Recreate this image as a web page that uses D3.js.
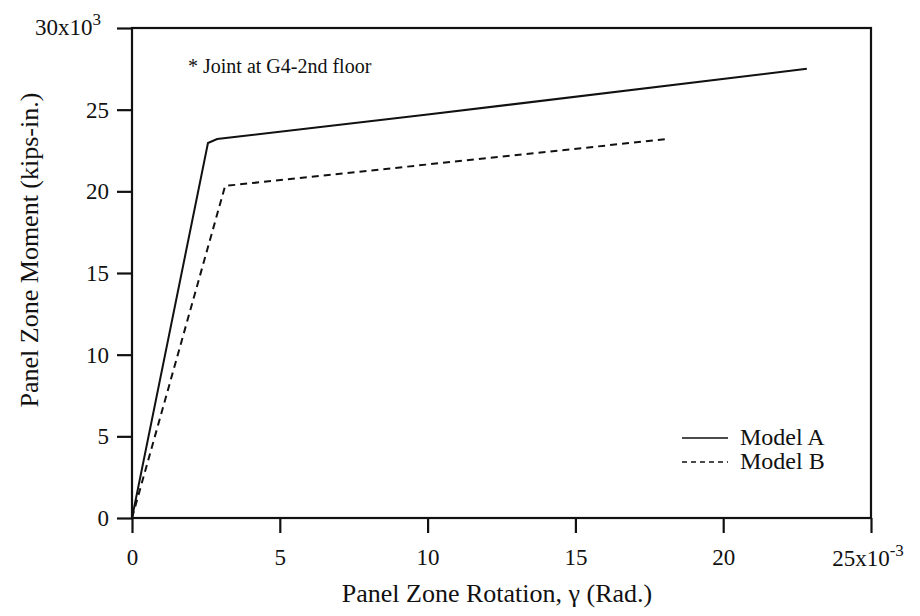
<!DOCTYPE html>
<html>
<head>
<meta charset="utf-8">
<script src="https://cdn.jsdelivr.net/npm/d3@7"></script>
<style>
  body { margin: 0; background: #fff; }
  svg text { font-family: "Liberation Serif", "Times New Roman", serif; fill: #111; }
</style>
</head>
<body>
<svg id="chart" width="920" height="616"></svg>
<script>
// data (x in 1e-3 rad, y in 1e3 kips-in.)
var modelAx = [0, 2.57, 2.88, 10, 22.83];
var modelAy = [0, 22.96, 23.2, 24.7, 27.5];
var modelBx = [0, 3.15, 18.1];
var modelBy = [0, 20.33, 23.2];
var xTicks = [0, 5, 10, 15, 20, 25];
var yTicks = [0, 5, 10, 15, 20, 25, 30];

var svg = d3.select('#chart');
// plot box (note: "top" is a reserved window prop, so use pad names)
var padL = 132, padR = 871, padT = 28, padB = 518;

var x = d3.scaleLinear().domain([0, 25]).range([padL, padR]);
var y = d3.scaleLinear().domain([0, 30]).range([padB, padT]);

// frame
svg.append('rect')
    .attr('x', padL).attr('y', padT)
    .attr('width', padR - padL).attr('height', padB - padT)
    .attr('fill', 'none').attr('stroke', '#111').attr('stroke-width', 2.2);

// x axis
var xAxis = svg.append('g').attr('transform', 'translate(0,' + padB + ')')
    .call(d3.axisBottom(x).tickValues(xTicks).tickSize(15).tickSizeOuter(0).tickPadding(16)
        .tickFormat(function (d) { return d === 25 ? '' : d; }));
xAxis.select('.domain').remove();
xAxis.selectAll('line').attr('stroke', '#111').attr('stroke-width', 2.2);
xAxis.selectAll('text').attr('font-size', 23).attr('font-family', '"Liberation Serif", serif');

// y axis
var yAxis = svg.append('g').attr('transform', 'translate(' + padL + ',0)')
    .call(d3.axisLeft(y).tickValues(yTicks).tickSize(15).tickSizeOuter(0).tickPadding(8)
        .tickFormat(function (d) { return d === 30 ? '' : d; }));
yAxis.select('.domain').remove();
yAxis.selectAll('line').attr('stroke', '#111').attr('stroke-width', 2.2);
yAxis.selectAll('text').attr('font-size', 23).attr('font-family', '"Liberation Serif", serif');

// exponent labels
var t30 = svg.append('text').attr('x', 101).attr('y', y(30)).attr('dy', '0.3em')
    .attr('text-anchor', 'end').attr('font-size', 23);
t30.append('tspan').text('30x10');
t30.append('tspan').attr('dy', -10).attr('font-size', 17).text('3');

var t25 = svg.append('text').attr('x', x(25) - 3).attr('y', 566)
    .attr('text-anchor', 'middle').attr('font-size', 23);
t25.append('tspan').text('25x10');
t25.append('tspan').attr('dy', -10).attr('font-size', 17).text('-3');

// axis titles
svg.append('text').attr('x', 497).attr('y', 602)
    .attr('text-anchor', 'middle').attr('font-size', 26)
    .text('Panel Zone Rotation, \u03b3 (Rad.)');

svg.append('text')
    .attr('transform', 'translate(38,250) rotate(-90)')
    .attr('text-anchor', 'middle').attr('font-size', 26)
    .text('Panel Zone Moment (kips-in.)');

// note
svg.append('text').attr('x', 188).attr('y', 73).attr('font-size', 20)
    .text('* Joint at G4-2nd floor');

// curves
var line = d3.line().x(function (d) { return x(d[0]); }).y(function (d) { return y(d[1]); });
var dataA = d3.zip(modelAx, modelAy);
var dataB = d3.zip(modelBx, modelBy);

svg.append('path').datum(dataA).attr('d', line)
    .attr('fill', 'none').attr('stroke', '#111').attr('stroke-width', 2);
svg.append('path').datum(dataB).attr('d', line)
    .attr('fill', 'none').attr('stroke', '#111').attr('stroke-width', 2)
    .attr('stroke-dasharray', '7,5');

// legend
var legend = [
    { name: 'Model A', dash: null, y: 438 },
    { name: 'Model B', dash: '5,4', y: 462 }
];
legend.forEach(function (l) {
    svg.append('line').attr('x1', 682).attr('x2', 728).attr('y1', l.y).attr('y2', l.y)
        .attr('stroke', '#111').attr('stroke-width', 1.6)
        .attr('stroke-dasharray', l.dash);
    svg.append('text').attr('x', 740).attr('y', l.y + 7).attr('font-size', 24).text(l.name);
});
</script>
</body>
</html>
